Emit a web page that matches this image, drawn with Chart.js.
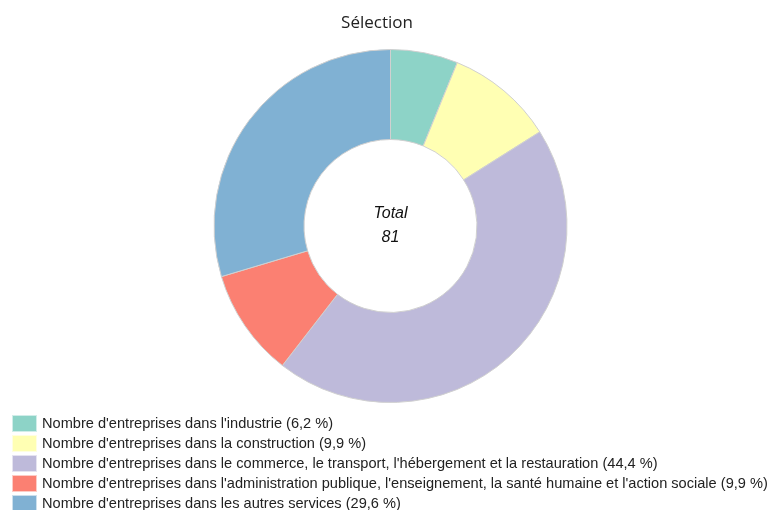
<!DOCTYPE html>
<html><head><meta charset="utf-8">
<script src="https://cdn.jsdelivr.net/npm/chart.js@4"></script>
<style>html,body{margin:0;padding:0;background:#fff;overflow:hidden}#wrap{width:771px;height:510px;position:relative}</style>
</head><body><div id="wrap"><canvas id="c" width="771" height="510"></canvas></div>
<script>
const categories = [
  "Nombre d'entreprises dans l'industrie",
  "Nombre d'entreprises dans la construction",
  "Nombre d'entreprises dans le commerce, le transport, l'hébergement et la restauration",
  "Nombre d'entreprises dans l'administration publique, l'enseignement, la santé humaine et l'action sociale",
  "Nombre d'entreprises dans les autres services"
];
const values = [5, 8, 36, 8, 24];
const colors = ["#8dd3c7", "#ffffb3", "#bebada", "#fb8072", "#80b1d3"];
const titleText = "Sélection";
const centerLabel = "Total";

const total = values.reduce((a, b) => a + b, 0);
const pct = v => (Math.round(v / total * 1000) / 10).toFixed(1).replace('.', ',') + ' %';

const centerPlugin = {
  id: 'center',
  afterDraw(chart) {
    const ctx = chart.ctx;
    const meta = chart.getDatasetMeta(0).data[0];
    const cx = meta.x, cy = meta.y;
    ctx.save();
    // title
    ctx.fillStyle = '#222';
    ctx.textAlign = 'center';
    ctx.textBaseline = 'middle';
    ctx.font = '17px "Open Sans", "Noto Sans", sans-serif';
    ctx.fillText(titleText, 377, 23);
    // center text
    ctx.fillStyle = '#111';
    ctx.font = 'italic 16px "Liberation Sans", Arial, sans-serif';
    ctx.fillText(centerLabel, cx, cy - 12);
    ctx.fillText(String(total), cx, cy + 12);
    // legend
    ctx.textAlign = 'left';
    ctx.font = '14.6px "Liberation Sans", Arial, sans-serif';
    categories.forEach((c, i) => {
      const y = 423 + i * 20;
      ctx.fillStyle = colors[i];
      ctx.fillRect(12, y - 8, 25, 17);
      ctx.strokeStyle = 'rgba(255,255,255,0.6)';
      ctx.lineWidth = 1;
      ctx.strokeRect(12.5, y - 7.5, 24, 16);
      ctx.fillStyle = '#222';
      ctx.fillText(c + ' (' + pct(values[i]) + ')', 42, y + 1);
    });
    ctx.restore();
  }
};

new Chart(document.getElementById('c'), {
  type: 'doughnut',
  data: {
    labels: categories,
    datasets: [{
      data: values,
      backgroundColor: colors,
      borderColor: '#d0d0d0',
      borderWidth: 1,
      hoverOffset: 0
    }]
  },
  options: {
    responsive: false,
    animation: false,
    cutout: '49%',
    layout: { padding: { top: 49, bottom: 107, left: 10, right: 0 } },
    plugins: {
      legend: { display: false },
      tooltip: { enabled: false },
      title: { display: false }
    }
  },
  plugins: [centerPlugin]
});
</script></body></html>
